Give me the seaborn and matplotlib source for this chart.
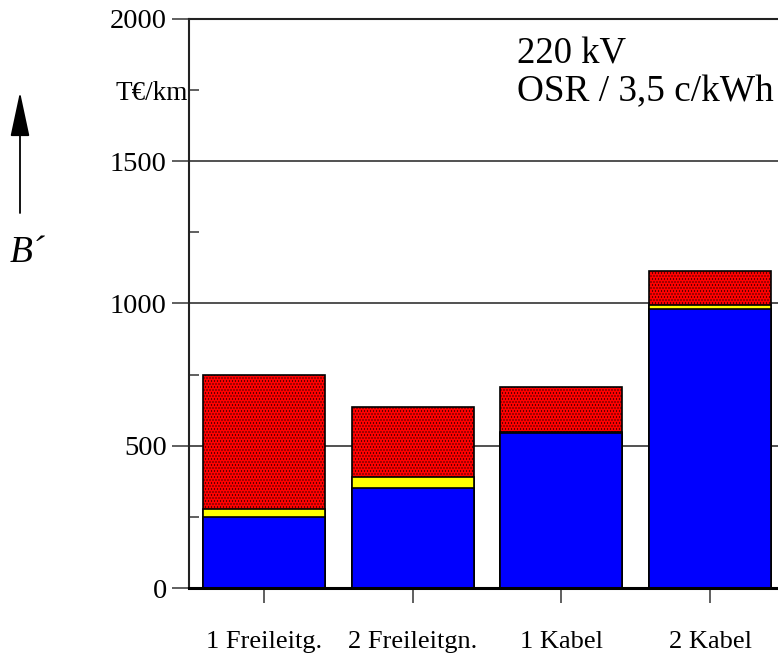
import matplotlib
matplotlib.use("Agg")
import matplotlib.pyplot as plt
import pandas as pd
import seaborn as sns

# data (T€/km)
categories = ["1 Freileitg.", "2 Freileitgn.", "1 Kabel", "2 Kabel"]
blue_part = [250, 350, 545, 980]
yellow_part = [28, 40, 5, 13]
red_part = [471, 245, 155, 122]
y_ticks = [0, 500, 1000, 1500, 2000]
minor_ticks = [250, 750, 1250, 1750]
minor_labels = ["", "", "", "T€/km"]

# dpi 90 so the dot hatch lands on a whole-pixel grid; sizes scaled to match
DPI = 90
S = 100 / DPI

sns.set_theme(style="white")
plt.rcParams["font.family"] = ["Liberation Serif", "DejaVu Serif"]
plt.rcParams["hatch.linewidth"] = 0.45 * S
plt.rcParams["text.color"] = "black"
plt.rcParams["xtick.color"] = "black"
plt.rcParams["ytick.color"] = "black"

df = pd.DataFrame({"cat": categories, "blue": blue_part,
                   "yellow": yellow_part, "red": red_part})
df["lvl2"] = df["blue"] + df["yellow"]
df["lvl3"] = df["lvl2"] + df["red"]

W, H = 778, 655
fig = plt.figure(figsize=(W / DPI, H / DPI), dpi=DPI)
ax = fig.add_axes([189 / W, (H - 588) / H, 1 - 189 / W, (588 - 19) / H])

# stacked bars drawn back to front
sns.barplot(data=df, x="cat", y="lvl3", color="#ff0000", saturation=1,
            edgecolor="black", linewidth=1.2 * S, hatch=".....", width=0.82, ax=ax)
sns.barplot(data=df, x="cat", y="lvl2", color="#ffff00", saturation=1,
            edgecolor="black", linewidth=1.2 * S, width=0.82, ax=ax)
sns.barplot(data=df, x="cat", y="blue", color="#0000ff", saturation=1,
            edgecolor="black", linewidth=1.2 * S, width=0.82, ax=ax)

ax.set_xlim(-0.504, 3.457)
ax.set_ylim(0, 2000)
ax.set_yticks(y_ticks)
ax.set_yticks(minor_ticks, minor=True)
ax.set_yticklabels([str(v) for v in y_ticks], fontsize=20.5 * S)
ax.set_yticklabels(minor_labels, minor=True, fontsize=19.5 * S)
ax.set_xlabel("")
ax.set_ylabel("")
ax.tick_params(axis="x", which="major", direction="out", length=11 * S,
               width=1.2 * S, color="#444444", pad=20 * S, labelsize=19 * S,
               bottom=True, labelcolor="black")
ax.tick_params(axis="y", which="major", direction="out", length=12 * S,
               width=1.2 * S, color="#444444", pad=4 * S, left=True,
               labelcolor="black")
ax.tick_params(axis="y", which="minor", direction="in", length=7 * S,
               width=1.2 * S, color="#444444", pad=1 * S, left=True,
               labelcolor="black")

ax.set_axisbelow(True)
ax.yaxis.grid(True, which="major", color="#333333", linewidth=1.2 * S)
ax.xaxis.grid(False)
ax.spines["right"].set_visible(False)
ax.spines["top"].set_color("#222222")
ax.spines["top"].set_linewidth(1.5 * S)
ax.spines["left"].set_color("#222222")
ax.spines["left"].set_linewidth(1.5 * S)
ax.spines["bottom"].set_color("black")
ax.spines["bottom"].set_linewidth(2.2 * S)

fig.text(517 / W, (H - 63) / H, "220 kV", fontsize=26.5 * S, va="baseline",
         color="black")
fig.text(517 / W, (H - 101) / H, "OSR / 3,5 c/kWh", fontsize=26.8 * S,
         va="baseline", color="black")

ax.annotate("", xy=(20 / W, (H - 92) / H), xytext=(20 / W, (H - 213) / H),
            xycoords="figure fraction", textcoords="figure fraction",
            arrowprops=dict(arrowstyle="-|>,head_length=1.4,head_width=0.3",
                            color="black", lw=1.3 * S, mutation_scale=20 * S,
                            shrinkA=0, shrinkB=0))
fig.text(10 / W, (H - 262) / H, "B´", fontsize=27 * S, style="italic",
         va="baseline", color="black")

fig.savefig("out.png", dpi=DPI)
